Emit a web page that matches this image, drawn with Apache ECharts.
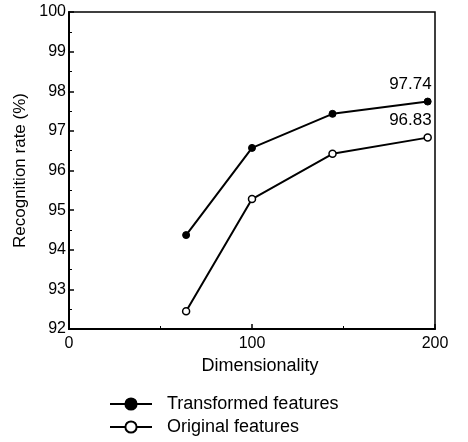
<!DOCTYPE html>
<html>
<head>
<meta charset="utf-8">
<script src="https://cdn.jsdelivr.net/npm/echarts@6/dist/echarts.min.js"></script>
<style>
  html, body { margin: 0; padding: 0; background: #fff; }
  #chart { width: 468px; height: 442px; }
</style>
</head>
<body>
<div id="chart"></div>
<script>
// dimensionality on x, recognition rate (%) on y
var dims = [64, 100, 144, 196];
var transformed = [94.37, 96.57, 97.43, 97.74];
var original = [92.45, 95.28, 96.42, 96.83];
var seriesNames = ['Transformed features', 'Original features'];

var font = 'Liberation Sans, Arial, sans-serif';

function pairs(ys) {
    return ys.map(function (v, i) {
        var item = { value: [dims[i], v] };
        if (i === ys.length - 1) {
            item.label = {
                show: true,
                position: 'top',
                align: 'right',
                offset: [4, 0],
                formatter: function (p) { return p.value[1].toFixed(2); },
                color: '#000',
                fontFamily: font,
                fontSize: 17
            };
        }
        return item;
    });
}

var chart = echarts.init(document.getElementById('chart'));
var option = {
    backgroundColor: '#fff',
    animation: false,
    textStyle: { fontFamily: font, color: '#000' },
    grid: {
        left: 69, right: 33, top: 12, bottom: 113,
        show: true, borderColor: '#000', borderWidth: 1.5
    },
    legend: {
        data: seriesNames,
        orient: 'vertical',
        left: 104,
        top: 390,
        itemWidth: 42,
        itemHeight: 14,
        itemGap: 5,
        textStyle: { fontFamily: font, fontSize: 18, color: '#000', padding: [0, 0, 0, 10] }
    },
    xAxis: {
        type: 'value',
        min: 0, max: 200, interval: 100,
        name: 'Dimensionality',
        nameLocation: 'middle',
        nameGap: 26,
        nameTextStyle: { fontSize: 18, color: '#000', padding: [0, 0, 0, 16] },
        axisLine: { lineStyle: { color: '#000', width: 2 } },
        axisTick: { inside: true, length: 5, lineStyle: { color: '#000', width: 1.5 } },
        minorTick: { show: true, splitNumber: 2, length: 3, lineStyle: { color: '#000' } },
        axisLabel: { margin: 7, fontSize: 16, color: '#000' },
        splitLine: { show: false }
    },
    yAxis: {
        type: 'value',
        min: 92, max: 100, interval: 1,
        name: 'Recognition rate (%)',
        nameLocation: 'middle',
        nameGap: 38,
        nameTextStyle: { fontSize: 17, color: '#000' },
        axisLine: { lineStyle: { color: '#000', width: 2 } },
        axisTick: { inside: true, length: 5, lineStyle: { color: '#000', width: 1.5 } },
        minorTick: { show: true, splitNumber: 2, length: 3, lineStyle: { color: '#000' } },
        axisLabel: { margin: 3, fontSize: 16, color: '#000' },
        splitLine: { show: false }
    },
    series: [
        {
            name: seriesNames[0],
            type: 'line',
            data: pairs(transformed),
            symbol: 'circle',
            symbolSize: 7,
            color: '#000',
            lineStyle: { color: '#000', width: 2 },
            itemStyle: { color: '#000', borderColor: '#000', borderWidth: 1 }
        },
        {
            name: seriesNames[1],
            type: 'line',
            data: pairs(original),
            symbol: 'circle',
            symbolSize: 7,
            color: '#000',
            lineStyle: { color: '#000', width: 2 },
            itemStyle: { color: '#fff', borderColor: '#000', borderWidth: 1.5 }
        }
    ]
};
chart.setOption(option);
</script>
</body>
</html>
